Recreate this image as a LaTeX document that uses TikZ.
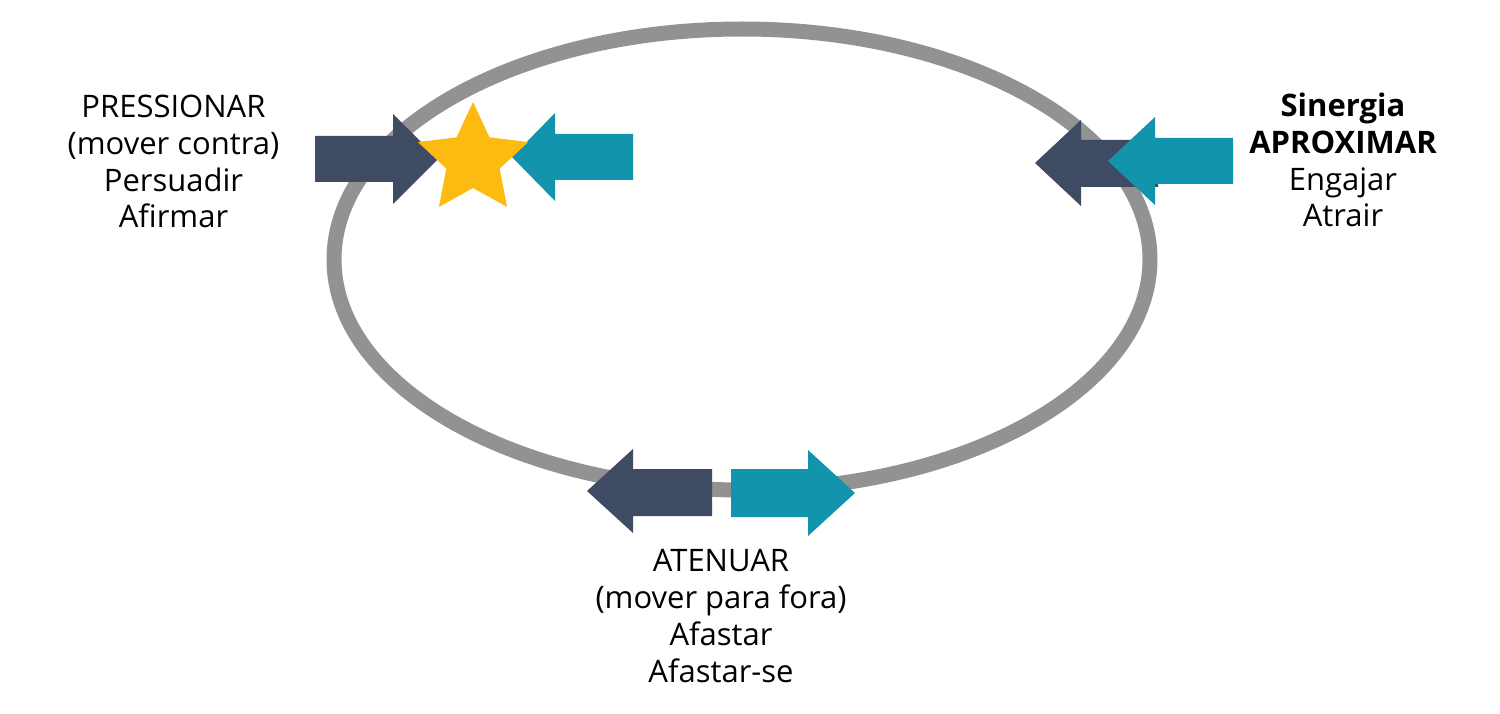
\documentclass[tikz,border=0pt]{standalone}
\usepackage{fontspec}
\setmainfont{Open Sans}
\usetikzlibrary{shapes.geometric}
\definecolor{navyc}{HTML}{3F4A63}
\definecolor{tealc}{HTML}{1294AD}
\definecolor{starc}{HTML}{FDBB12}
\definecolor{ringc}{HTML}{929292}
\tikzset{
  lbl/.style={align=center, inner sep=0pt, anchor=base, text=black, font=\fontsize{31}{36.8}\selectfont},
  ring/.style={draw=ringc, line width=15pt},
  navyarrow/.style={fill=navyc},
  tealarrow/.style={fill=tealc},
}
\begin{document}
\begin{tikzpicture}[x=1pt,y=-1pt]
\useasboundingbox (0,0) rectangle (1500,714);
% ring
\node (ring) [ellipse, inner sep=0pt, minimum width=816pt, minimum height=461pt, ring] at (742,259.5) {};
% left pair (pointing inward)
\path[navyarrow] (315,136) -- (393,136) -- (393,114) -- (438,159) -- (393,204) -- (393,182) -- (315,182) -- cycle;
\path[tealarrow] (633,134) -- (555,134) -- (555,113) -- (512,157) -- (555,201) -- (555,180) -- (633,180) -- cycle;
\node (star) [star, star points=5, star point ratio=2.07, minimum size=116pt, inner sep=0pt, fill=starc] at (473,160) {};
% right pair (both pointing left)
\path[navyarrow] (1158,140) -- (1081,140) -- (1081,120) -- (1035,163) -- (1081,206) -- (1081,187) -- (1158,187) -- cycle;
\path[tealarrow] (1233,138) -- (1155,138) -- (1155,117) -- (1108,161) -- (1155,205) -- (1155,184) -- (1233,184) -- cycle;
% bottom pair (pointing outward)
\path[navyarrow] (712,469) -- (633,469) -- (633,449) -- (587,491) -- (633,533) -- (633,516) -- (712,516) -- cycle;
\path[tealarrow] (731,469) -- (808,469) -- (808,450) -- (855,493) -- (808,536) -- (808,517) -- (731,517) -- cycle;
% labels
\node (lefttxt) [lbl] at (173.5,228) {PRESSIONAR\\(mover contra)\\Persuadir\\Afirmar};
\node (righttxt) [lbl] at (1343,227) {\textbf{Sinergia}\\\textbf{APROXIMAR}\\Engajar\\Atrair};
\node (bottxt) [lbl] at (721,682) {ATENUAR\\(mover para fora)\\Afastar\\Afastar-se};
\end{tikzpicture}
\end{document}
